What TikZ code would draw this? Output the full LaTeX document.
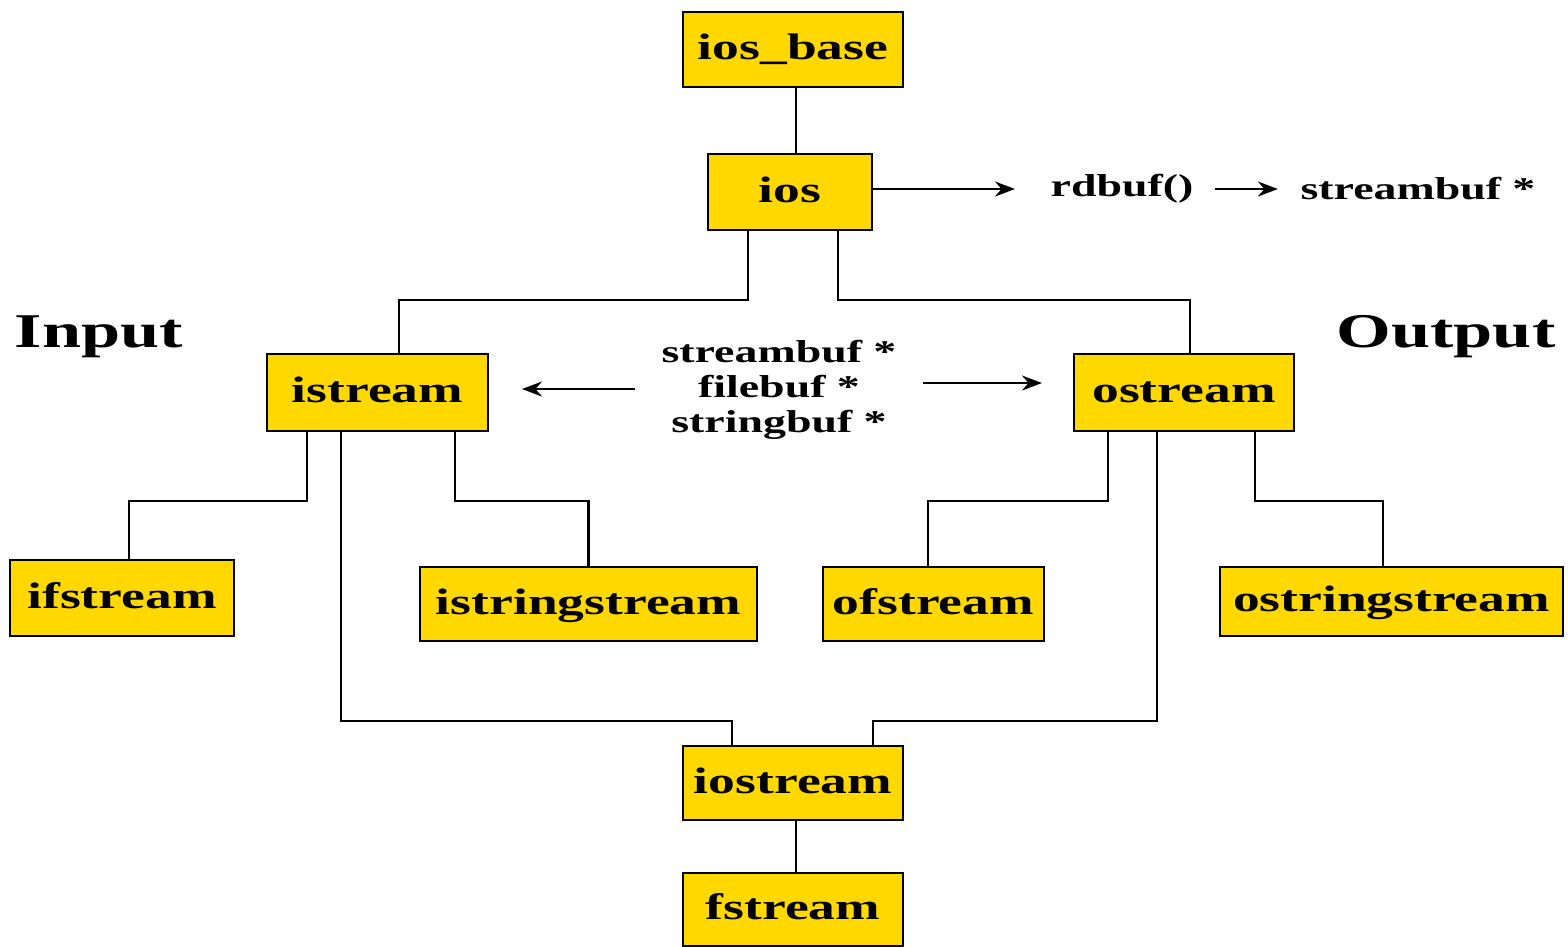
\documentclass[tikz,border=0pt]{standalone}
\usepackage{fontspec}
\setmainfont{Liberation Serif}[FakeStretch=1.45]
\usetikzlibrary{arrows.meta}
\definecolor{boxgold}{HTML}{FFD800}
\begin{document}
\begin{tikzpicture}[cls/.style={draw,fill=boxgold,line width=0.7pt,inner sep=0pt,
      minimum height=0.75cm,text height=1.6ex,text depth=0.35ex,font=\fontsize{10.5}{12}\bfseries},
   lbl/.style={inner sep=0pt,font=\fontsize{9}{11}\bfseries},
   conn/.style={line width=0.6pt},
   arr/.style={line width=0.6pt,-{Stealth[length=2mm,width=1.5mm]}}]
\useasboundingbox (0,0) rectangle (15.68,-9.46);
\node[cls,minimum width=2.2cm] (iosbase) at (7.93,-0.495) {ios\_base};
\node[cls,minimum width=1.64cm,minimum height=0.76cm] (ios) at (7.90,-1.92) {ios};
\node[cls,minimum width=2.21cm,minimum height=0.77cm] (istream) at (3.775,-3.925) {istream};
\node[cls,minimum width=2.2cm,minimum height=0.77cm] (ostream) at (11.84,-3.925) {ostream};
\node[cls,minimum width=2.24cm,minimum height=0.76cm] (ifstream) at (1.22,-5.98) {ifstream};
\node[cls,minimum width=3.37cm,minimum height=0.74cm] (istringstream) at (5.885,-6.04) {istringstream};
\node[cls,minimum width=2.21cm,minimum height=0.74cm] (ofstream) at (9.335,-6.04) {ofstream};
\node[cls,minimum width=3.43cm,minimum height=0.69cm] (ostringstream) at (13.915,-6.015) {ostringstream};
\node[cls,minimum width=2.2cm,minimum height=0.74cm] (iostream) at (7.93,-7.83) {iostream};
\node[cls,minimum width=2.2cm,minimum height=0.73cm] (fstream) at (7.93,-9.095) {fstream};

\node[inner sep=0pt,font=\fontsize{13.8}{16}\bfseries] (input) at (0.99,-3.37) {Input};
\node[inner sep=0pt,font=\fontsize{13.8}{16}\bfseries] (output) at (14.46,-3.37) {Output};

\node[lbl] (rdbuf) at (11.22,-1.89) {rdbuf()};
\node[lbl] (sbuf) at (14.18,-1.89) {streambuf *};
\coordinate (rdtip) at (10.15,-1.89);
\node[lbl,align=center,inner xsep=2.6mm] (bufs) at (7.79,-3.90)
   {streambuf *\\[-1pt] filebuf *\\[-1pt] stringbuf *};
\coordinate (intip) at (5.22,-3.89);
\coordinate (outtip) at (10.42,-3.83);

\draw[conn] (iosbase.south -| 7.96,0) -- (ios.north -| 7.96,0);
\draw[conn] ([xshift=-4.2mm]ios.south) -- ++(0,-0.69) -| ([xshift=2.15mm]istream.north);
\draw[conn] ([xshift=4.8mm]ios.south) -- ++(0,-0.69) -| ([xshift=0.6mm]ostream.north);
\draw[conn] ([xshift=-7.05mm]istream.south) -- ++(0,-0.69) -| ([xshift=0.7mm]ifstream.north);
\draw[conn] ([xshift=7.75mm]istream.south) -- ++(0,-0.69) -| (istringstream.north);
\draw[conn] ([xshift=-3.65mm]istream.south) -- ++(0,-2.89) -| ([xshift=-6.1mm]iostream.north);
\draw[conn] ([xshift=-7.6mm]ostream.south) -- ++(0,-0.69) -| ([xshift=-0.55mm]ofstream.north);
\draw[conn] ([xshift=7.1mm]ostream.south) -- ++(0,-0.69) -| ([xshift=-0.85mm]ostringstream.north);
\draw[conn] ([xshift=-2.7mm]ostream.south) -- ++(0,-2.89) -| ([xshift=8mm]iostream.north);
\draw[conn] (iostream.south -| 7.96,0) -- (fstream.north -| 7.96,0);

\draw[arr] (ios.east |- rdtip) -- (rdtip);
\draw[arr] ([xshift=2.1mm]rdbuf.east) -- ([xshift=-2.2mm]sbuf.west);
\draw[arr] (bufs.west |- intip) -- (intip);
\draw[arr] (bufs.east |- outtip) -- (outtip);
\end{tikzpicture}
\end{document}
